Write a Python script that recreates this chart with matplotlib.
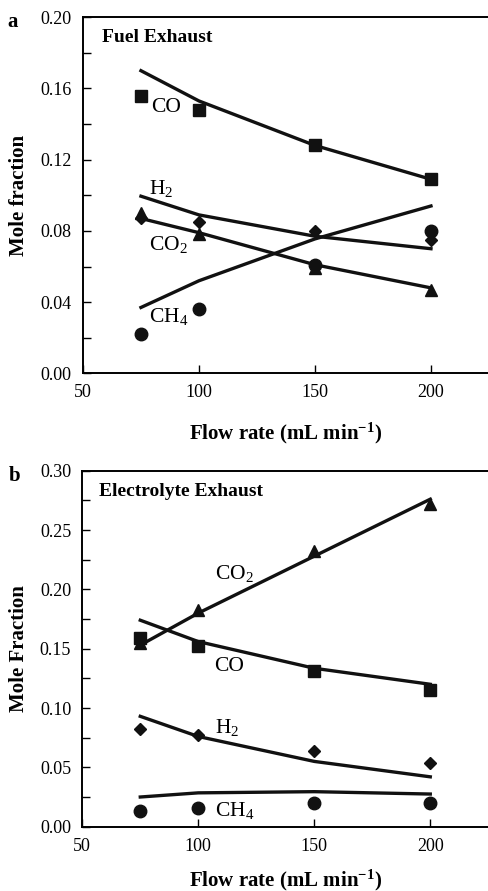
#!/usr/bin/python
# -*- coding: utf-8 -*-
"""
Gas composition of fuel and electrolyte exhaust vs. flow rate.
Markers are measured mole fractions, lines are model predictions.
"""
import matplotlib
matplotlib.use('Agg')
from matplotlib import pyplot as plt
from matplotlib.ticker import MultipleLocator

plt.rcParams['font.family'] = ['Liberation Serif', 'DejaVu Serif']
plt.rcParams['mathtext.fontset'] = 'custom'
plt.rcParams['mathtext.rm'] = 'Liberation Serif'
plt.rcParams['mathtext.it'] = 'Liberation Serif:italic'
plt.rcParams['mathtext.bf'] = 'Liberation Serif:bold'

FLOW = [75, 100, 150, 200]

# (a) fuel exhaust - measured
FUEL_CO = [0.156, 0.148, 0.128, 0.109]
FUEL_H2 = [0.087, 0.085, 0.080, 0.075]
FUEL_CO2 = [0.090, 0.078, 0.059, 0.047]
FUEL_CH4 = [0.022, 0.036, 0.061, 0.080]
# (a) fuel exhaust - model
FUEL_CO_FIT = [0.170, 0.153, 0.128, 0.109]
FUEL_H2_FIT = [0.0995, 0.089, 0.077, 0.070]
FUEL_CO2_FIT = [0.087, 0.079, 0.061, 0.048]
FUEL_CH4_FIT = [0.037, 0.052, 0.0755, 0.094]

# (b) electrolyte exhaust - measured
ELEC_CO2 = [0.155, 0.183, 0.232, 0.272]
ELEC_CO = [0.159, 0.152, 0.131, 0.115]
ELEC_H2 = [0.082, 0.077, 0.064, 0.054]
ELEC_CH4 = [0.013, 0.016, 0.020, 0.020]
# (b) electrolyte exhaust - model
ELEC_CO2_FIT = [0.153, 0.180, 0.228, 0.276]
ELEC_CO_FIT = [0.174, 0.156, 0.1335, 0.120]
ELEC_H2_FIT = [0.093, 0.076, 0.055, 0.042]
ELEC_CH4_FIT = [0.025, 0.0285, 0.0295, 0.0275]

XLABEL = r'Flow rate (mL min$^{\mathbf{-1}}$)'


def style_axes(ax, ymax, ymajor, yfmt):
    """ Box axes with inward ticks, no right spine """
    ax.set_xlim(50, 225)
    ax.set_ylim(0, ymax)
    ax.xaxis.set_major_locator(MultipleLocator(50))
    ax.yaxis.set_major_locator(MultipleLocator(ymajor))
    ax.yaxis.set_minor_locator(MultipleLocator(ymajor / 2))
    ax.yaxis.set_major_formatter(plt.FormatStrFormatter(yfmt))
    ax.tick_params(which='both', direction='in', length=6, width=1,
                   labelsize=13, top=False, right=False)
    ax.tick_params(axis='y', pad=8)
    ax.tick_params(axis='x', pad=8)
    ax.spines['right'].set_visible(False)
    for side in ('left', 'bottom', 'top'):
        ax.spines[side].set_linewidth(1.4)


def plot_series(ax, meas, fit, marker, msize):
    ax.plot(FLOW, fit, '-', color='#111111', lw=2.4, zorder=2)
    ax.plot(FLOW, meas, linestyle='none', marker=marker, ms=msize,
            color='#111111', zorder=3, clip_on=False)


def plot_data():
    fig = plt.figure(figsize=(4.88, 8.91), dpi=100)

    # ---- panel a ----
    ax1 = fig.add_axes([0.170, 0.581, 0.832, 0.3996])
    plot_series(ax1, FUEL_CO, FUEL_CO_FIT, 's', 9)
    plot_series(ax1, FUEL_H2, FUEL_H2_FIT, 'D', 6.5)
    plot_series(ax1, FUEL_CO2, FUEL_CO2_FIT, '^', 9)
    plot_series(ax1, FUEL_CH4, FUEL_CH4_FIT, 'o', 9)
    style_axes(ax1, 0.20, 0.04, '%.2f')
    ax1.text(79.3, 0.147, 'CO', fontsize=15.5)
    ax1.text(78.4, 0.101, r'H$_2$', fontsize=15.5)
    ax1.text(78.4, 0.069, r'CO$_2$', fontsize=15.5)
    ax1.text(78.4, 0.0287, r'CH$_4$', fontsize=15.5)
    ax1.text(0.047, 0.930, 'Fuel Exhaust', transform=ax1.transAxes,
             fontsize=14, fontweight='bold')
    ax1.set_xlabel(XLABEL, fontsize=15, fontweight='bold', labelpad=14)
    ax1.set_ylabel('Mole fraction', fontsize=15, fontweight='bold', labelpad=8)
    fig.text(0.016, 0.970, 'a', fontsize=15, fontweight='bold')

    # ---- panel b ----
    ax2 = fig.add_axes([0.1686, 0.0722, 0.832, 0.3995])
    plot_series(ax2, ELEC_CO2, ELEC_CO2_FIT, '^', 9)
    plot_series(ax2, ELEC_CO, ELEC_CO_FIT, 's', 9)
    plot_series(ax2, ELEC_H2, ELEC_H2_FIT, 'D', 6.5)
    plot_series(ax2, ELEC_CH4, ELEC_CH4_FIT, 'o', 9)
    style_axes(ax2, 0.30, 0.05, '%.2f')
    ax2.text(107, 0.2085, r'CO$_2$', fontsize=15.5)
    ax2.text(107, 0.1312, 'CO', fontsize=15.5)
    ax2.text(107, 0.0787, r'H$_2$', fontsize=15.5)
    ax2.text(107, 0.009, r'CH$_4$', fontsize=15.5)
    ax2.text(0.042, 0.930, 'Electrolyte Exhaust', transform=ax2.transAxes,
             fontsize=14, fontweight='bold')
    ax2.set_xlabel(XLABEL, fontsize=15, fontweight='bold', labelpad=9)
    ax2.set_ylabel('Mole Fraction', fontsize=15, fontweight='bold', labelpad=8)
    fig.text(0.018, 0.460, 'b', fontsize=15, fontweight='bold')

    fig.savefig('out.png', dpi=100)


plot_data()
